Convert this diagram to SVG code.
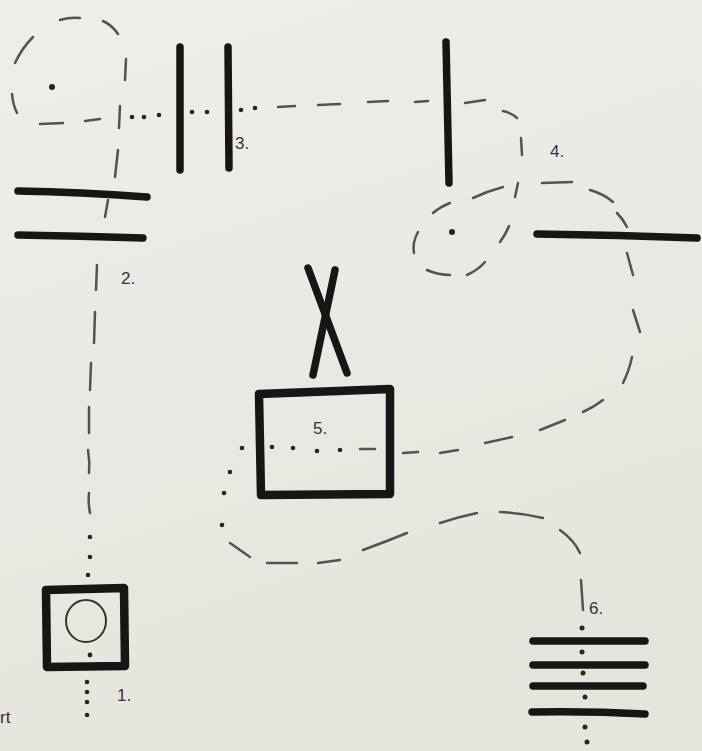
<svg xmlns="http://www.w3.org/2000/svg" width="702" height="751" viewBox="0 0 702 751">
<defs>
<linearGradient id="paper" x1="0" y1="0" x2="0.3" y2="1">
<stop offset="0" stop-color="#efeee9"/>
<stop offset="1" stop-color="#e5e4dd"/>
</linearGradient>
<style>
.thick{stroke:#161616;stroke-width:7.5;stroke-linecap:round;stroke-linejoin:round;fill:none}
.dash{stroke:#535353;stroke-width:2.5;stroke-linecap:round;fill:none}
.dot{fill:#262626}
.lbl{font-family:"Liberation Sans",Arial,sans-serif;font-size:17px;fill:#33333f}
</style>
</defs>
<rect width="702" height="751" fill="url(#paper)"/>

<g id="node1">
<path class="thick" d="M46 590 L124 588 L125 666 L47 667 Z" style="stroke-width:8.5"/>
<ellipse cx="86" cy="621" rx="20" ry="21" fill="none" stroke="#333" stroke-width="2"/>
<circle class="dot" cx="90" cy="655" r="2.4"/>
<text class="lbl" x="117" y="701">1.</text>
</g>

<g id="node2">
<path class="thick" d="M18 191 Q80 192 147 197"/>
<path class="thick" d="M18 235 Q80 236 143 238"/>
<text class="lbl" x="121" y="284">2.</text>
</g>

<g id="node3">
<path class="thick" d="M180 47 L180 170"/>
<path class="thick" d="M228 47 L229 168"/>
<text class="lbl" x="235" y="149">3.</text>
</g>

<g id="node4">
<path class="thick" d="M446 42 L449 183"/>
<path class="thick" d="M537 234 Q620 235 697 238"/>
<circle class="dot" cx="452" cy="232" r="3"/>
<text class="lbl" x="550" y="157">4.</text>
</g>

<g id="nodeX">
<path class="thick" d="M308 268 L347 373"/>
<path class="thick" d="M335 270 L313 375"/>
</g>

<g id="node5">
<path class="thick" d="M259 394 L390 389 L390 494 L261 495 Z" style="stroke-width:8.5"/>
<text class="lbl" x="313" y="434">5.</text>
</g>

<g id="node6">
<path class="thick" d="M533 641 L645 641"/>
<path class="thick" d="M533 665 L645 665"/>
<path class="thick" d="M533 686 L643 686"/>
<path class="thick" d="M532 712 Q590 711 645 714"/>
<text class="lbl" x="589" y="614">6.</text>
</g>

<g id="connectors">
<circle class="dot" cx="52" cy="87" r="3"/>
<path class="dash" d="M60 20 Q70 17 80 18"/>
<path class="dash" d="M103 21 Q112 25 118 34"/>
<path class="dash" d="M126 59 L125 80"/>
<path class="dash" d="M15 63 Q22 48 33 37"/>
<path class="dash" d="M12 94 Q13 105 17 113"/>
<path class="dash" d="M40 124 L63 123"/>
<path class="dash" d="M85 121 L100 119"/>
<path class="dash" d="M120 106 L119 128"/>
<circle class="dot" cx="132" cy="117" r="2.3"/>
<circle class="dot" cx="144" cy="117" r="2.3"/>
<circle class="dot" cx="159" cy="115" r="2.3"/>
<circle class="dot" cx="192" cy="112" r="2.3"/>
<circle class="dot" cx="207" cy="112" r="2.3"/>
<circle class="dot" cx="241" cy="110" r="2.3"/>
<circle class="dot" cx="255" cy="108" r="2.3"/>
<path class="dash" d="M278 107 L295 106"/>
<path class="dash" d="M318 105 L340 104"/>
<path class="dash" d="M368 102 L388 101"/>
<path class="dash" d="M415 102 L428 101"/>
<path class="dash" d="M465 103 L485 100"/>
<path class="dash" d="M503 111 Q512 113 517 118"/>
<path class="dash" d="M521 138 L522 155"/>
<path class="dash" d="M518 183 L515 197"/>
<path class="dash" d="M503 187 Q488 191 473 198"/>
<path class="dash" d="M450 203 Q440 207 433 213"/>
<path class="dash" d="M418 232 Q412 243 414 253"/>
<path class="dash" d="M427 270 Q438 275 450 275"/>
<path class="dash" d="M467 275 Q478 270 485 262"/>
<path class="dash" d="M500 242 Q506 234 509 226"/>
<path class="dash" d="M542 183 L572 182"/>
<path class="dash" d="M590 190 Q604 194 613 202"/>
<path class="dash" d="M617 213 Q623 219 627 227"/>
<path class="dash" d="M627 253 L633 275"/>
<path class="dash" d="M633 310 L640 332"/>
<path class="dash" d="M632 357 Q629 371 623 383"/>
<path class="dash" d="M603 400 Q594 407 583 412"/>
<path class="dash" d="M565 420 L540 430"/>
<path class="dash" d="M512 437 L485 443"/>
<path class="dash" d="M458 450 L440 453"/>
<path class="dash" d="M418 452 L403 453"/>
<path class="dash" d="M360 449 L375 449"/>
<circle class="dot" cx="340" cy="450" r="2.3"/>
<circle class="dot" cx="317" cy="451" r="2.3"/>
<circle class="dot" cx="293" cy="448" r="2.3"/>
<circle class="dot" cx="272" cy="447" r="2.3"/>
<circle class="dot" cx="242" cy="448" r="2.3"/>
<circle class="dot" cx="230" cy="472" r="2.3"/>
<circle class="dot" cx="224" cy="493" r="2.3"/>
<circle class="dot" cx="222" cy="525" r="2.3"/>
<path class="dash" d="M230 543 L250 557"/>
<path class="dash" d="M267 563 L297 563"/>
<path class="dash" d="M318 563 L340 560"/>
<path class="dash" d="M363 550 Q385 542 407 533"/>
<path class="dash" d="M440 523 Q458 517 477 513"/>
<path class="dash" d="M500 512 Q522 513 543 518"/>
<path class="dash" d="M560 530 Q574 540 580 553"/>
<path class="dash" d="M581 580 L583 610"/>
<circle class="dot" cx="582" cy="628" r="2.5"/>
<circle class="dot" cx="582" cy="652" r="2.5"/>
<circle class="dot" cx="583" cy="673" r="2.5"/>
<circle class="dot" cx="585" cy="697" r="2.5"/>
<circle class="dot" cx="585" cy="727" r="2.5"/>
<circle class="dot" cx="587" cy="742" r="2.5"/>
<path class="dash" d="M118 150 L115 177"/>
<path class="dash" d="M108 200 L105 217"/>
<path class="dash" d="M97 265 L96 290"/>
<path class="dash" d="M95 312 L94 343"/>
<path class="dash" d="M91 363 L90 390"/>
<path class="dash" d="M89 407 L89 433"/>
<path class="dash" d="M88 450 Q90 462 89 473"/>
<path class="dash" d="M89 493 Q88 503 90 513"/>
<circle class="dot" cx="90" cy="537" r="2.3"/>
<circle class="dot" cx="90" cy="557" r="2.3"/>
<circle class="dot" cx="88" cy="575" r="2.3"/>
<circle class="dot" cx="87" cy="682" r="2.3"/>
<circle class="dot" cx="87" cy="692" r="2.3"/>
<circle class="dot" cx="87" cy="702" r="2.3"/>
<circle class="dot" cx="87" cy="715" r="2.3"/>
</g>

<text class="lbl" x="0" y="723">rt</text>
</svg>
